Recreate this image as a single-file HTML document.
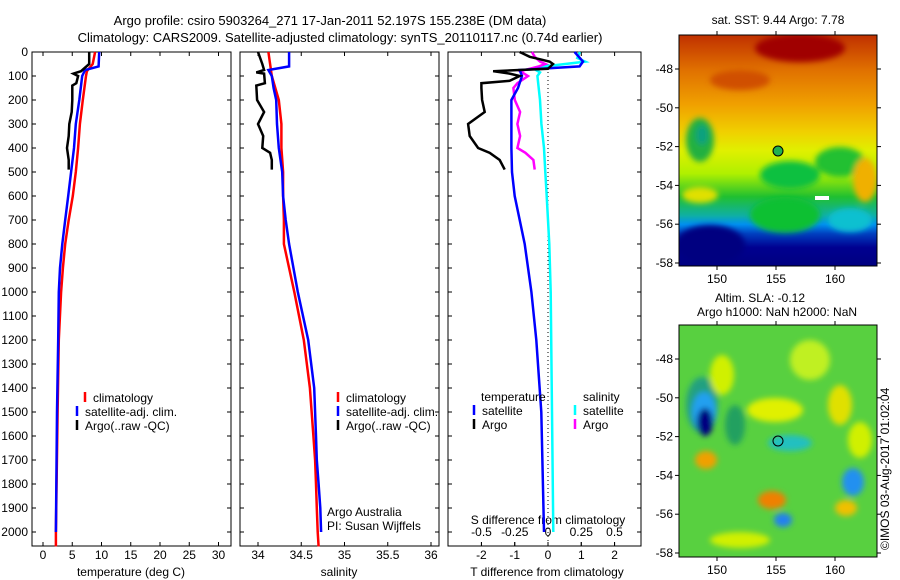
<!DOCTYPE html>
<html><head><meta charset="utf-8"><style>
body{margin:0;background:#fff;}
svg{display:block;font-family:"Liberation Sans",sans-serif;font-size:12px;}
</style></head><body>
<svg id="c" width="900" height="580">
<defs>
<linearGradient id="sstg" x1="0" y1="0" x2="0" y2="1">
<stop offset="0" stop-color="#c03000"/><stop offset="0.15" stop-color="#e07000"/><stop offset="0.3" stop-color="#f0a000"/>
<stop offset="0.42" stop-color="#f0d000"/><stop offset="0.5" stop-color="#e0f000"/><stop offset="0.6" stop-color="#b0f000"/>
<stop offset="0.7" stop-color="#20c030"/><stop offset="0.78" stop-color="#10b0a0"/><stop offset="0.82" stop-color="#0090f0"/>
<stop offset="0.86" stop-color="#0040c0"/><stop offset="0.92" stop-color="#000090"/><stop offset="1" stop-color="#000080"/>
</linearGradient>
<filter id="bl"><feGaussianBlur stdDeviation="3"/></filter>
<clipPath id="m1"><rect x="679" y="35" width="198" height="231"/></clipPath>
<clipPath id="m2"><rect x="679" y="325" width="198" height="232"/></clipPath>
</defs>
<text x="330" y="25" text-anchor="middle" font-size="13">Argo profile: csiro 5903264_271 17-Jan-2011 52.197S 155.238E (DM data)</text>
<text x="340" y="42" text-anchor="middle" font-size="13">Climatology: CARS2009. Satellite-adjusted climatology: synTS_20110117.nc (0.74d earlier)</text>

<g clip-path="url(#m1)">
<rect x="679" y="35" width="198" height="231" fill="url(#sstg)"/>
<g filter="url(#bl)">
<ellipse cx="700" cy="140" rx="14" ry="22" fill="#20b040"/>
<ellipse cx="702" cy="135" rx="6" ry="10" fill="#10a080"/>
<ellipse cx="790" cy="175" rx="30" ry="14" fill="#10c040"/>
<ellipse cx="840" cy="162" rx="25" ry="15" fill="#20c030"/>
<ellipse cx="700" cy="195" rx="18" ry="8" fill="#e0e000"/>
<ellipse cx="800" cy="48" rx="45" ry="14" fill="#a00000"/>
<ellipse cx="740" cy="80" rx="30" ry="10" fill="#d05000"/>
<ellipse cx="865" cy="180" rx="12" ry="22" fill="#f0b000"/>
<ellipse cx="785" cy="215" rx="35" ry="18" fill="#10c030"/>
<ellipse cx="850" cy="220" rx="22" ry="12" fill="#10c0d0"/>
<ellipse cx="710" cy="245" rx="35" ry="20" fill="#000080"/>
</g>
<circle cx="778" cy="151" r="5" fill="#20b050" stroke="#000"/>
<rect x="815" y="196" width="14" height="4" fill="#fff"/>
</g>
<rect x="679" y="35" width="198" height="231" fill="none" stroke="#000"/>
<text x="778" y="24" text-anchor="middle">sat. SST: 9.44 Argo: 7.78</text>

<g clip-path="url(#m2)">
<rect x="679" y="325" width="198" height="232" fill="#58d040"/>
<g filter="url(#bl)">
<ellipse cx="702" cy="405" rx="16" ry="28" fill="#20a080"/>
<ellipse cx="704" cy="412" rx="12" ry="20" fill="#20a0f0"/>
<ellipse cx="705" cy="422" rx="8" ry="14" fill="#000080"/>
<ellipse cx="706" cy="460" rx="11" ry="9" fill="#f0a000"/>
<ellipse cx="775" cy="410" rx="28" ry="12" fill="#e0f000"/>
<ellipse cx="790" cy="443" rx="22" ry="8" fill="#20c0c0"/>
<ellipse cx="772" cy="500" rx="14" ry="9" fill="#f08000"/>
<ellipse cx="783" cy="520" rx="9" ry="7" fill="#2080f0"/>
<ellipse cx="853" cy="482" rx="11" ry="14" fill="#2090f0"/>
<ellipse cx="846" cy="508" rx="11" ry="8" fill="#f0c000"/>
<ellipse cx="840" cy="405" rx="12" ry="20" fill="#e0e000"/>
<ellipse cx="722" cy="375" rx="12" ry="20" fill="#d0f000"/>
<ellipse cx="810" cy="360" rx="20" ry="20" fill="#c0f020"/>
<ellipse cx="740" cy="540" rx="30" ry="8" fill="#d0f000"/>
<ellipse cx="735" cy="425" rx="10" ry="20" fill="#20a060"/>
<ellipse cx="860" cy="440" rx="12" ry="18" fill="#d0f000"/>
</g>
<circle cx="778" cy="441" r="5" fill="none" stroke="#000"/>
</g>
<rect x="679" y="325" width="198" height="232" fill="none" stroke="#000"/>
<text x="760" y="302" text-anchor="middle">Altim. SLA: -0.12</text>
<text x="777" y="316" text-anchor="middle">Argo h1000: NaN h2000: NaN</text>
<text transform="translate(889,550) rotate(-90)">©IMOS 03-Aug-2017 01:02:04</text>
<g id="g"></g>
</svg>
<script>
const NS="http://www.w3.org/2000/svg";
const g=document.getElementById('g');
function el(t,a,txt){const e=document.createElementNS(NS,t);for(const k in a)e.setAttribute(k,a[k]);if(txt!==undefined)e.textContent=txt;g.appendChild(e);return e;}
// ---- data ----
const tempClimDepth=[0,50,80,100,200,300,400,500,600,700,800,900,1000,1200,1500,2000,2060];
const tempClim=[8.9,8.5,7.5,7.35,6.8,6.3,6.0,5.6,5.1,4.4,3.8,3.4,3.1,2.7,2.5,2.2,2.2];
const tempSatDepth=[0,60,75,100,200,300,400,500,600,700,800,900,1000,1200,1500,2000];
const tempSat=[9.6,9.5,7.2,6.7,6.2,5.6,5.3,4.8,4.3,3.8,3.3,2.9,2.7,2.6,2.4,2.2];
const tempArgoDepth=[0,50,80,90,100,130,140,200,250,300,350,400,450,490];
const tempArgo=[7.9,7.9,6.5,5.2,6.0,5.7,5.0,5.0,4.9,4.5,4.4,4.1,4.4,4.4];
const salClimDepth=[0,50,100,200,300,400,500,600,700,800,1000,1200,1400,1600,1700,1800,1900,2000,2060];
const salClim=[34.12,34.14,34.16,34.24,34.27,34.27,34.29,34.29,34.30,34.30,34.42,34.53,34.60,34.64,34.66,34.67,34.68,34.69,34.70];
const salSatDepth=[0,60,75,100,150,200,300,400,500,600,700,800,1000,1200,1400,1600,1700,1800,1900,2000];
const salSat=[34.36,34.36,34.12,34.16,34.18,34.21,34.22,34.24,34.28,34.29,34.32,34.36,34.46,34.58,34.65,34.67,34.68,34.70,34.72,34.73];
const salArgoDepth=[0,50,75,85,90,130,140,200,250,300,350,400,420,450,490];
const salArgo=[34.0,34.05,34.07,33.98,34.07,34.08,33.98,33.99,34.07,34.0,34.06,34.05,34.14,34.16,34.16];
const dTsatDepth=[0,40,60,75,100,150,200,300,400,500,600,700,800,1000,1200,1500,2000];
const dTsat=[0.8,1.05,0.95,-0.85,-0.78,-0.9,-1.1,-1.1,-1.1,-1.08,-1.0,-0.85,-0.7,-0.5,-0.35,-0.2,-0.12];
const dTargoDepth=[0,10,20,30,40,50,70,80,90,100,120,130,150,200,250,300,350,400,420,450,490];
const dTargo=[-0.85,-0.7,-0.55,-0.25,0.05,0.15,0,-1.65,-1.15,-0.85,-1.15,-2.0,-2.0,-1.98,-1.9,-2.4,-2.35,-2.1,-1.75,-1.45,-1.3];
const dSsatDepth=[0,25,40,55,60,75,85,100,150,200,300,400,500,600,800,1000,1500,2000];
const dSsat=[0.24,0.22,0.28,0.05,-0.06,-0.09,-0.06,-0.08,-0.07,-0.06,-0.05,-0.03,-0.02,-0.01,0.01,0.02,0.03,0.04];
const dSargoDepth=[0,20,40,50,60,80,100,130,150,200,250,300,350,400,420,450,490];
const dSargo=[-0.12,-0.1,-0.06,-0.02,-0.07,-0.21,-0.15,-0.23,-0.26,-0.25,-0.21,-0.23,-0.21,-0.23,-0.17,-0.11,-0.1];
const depthTicks=[0,100,200,300,400,500,600,700,800,900,1000,1100,1200,1300,1400,1500,1600,1700,1800,1900,2000];
const tempTicks=[0,5,10,15,20,25,30];
const salTicks=["34","34.5","35","35.5","36"];
const dTticks=[-2,-1,0,1,2];
const dSticks=["-0.5","-0.25","0","0.25","0.5"];
// ---- axes ----
const y=d=>52+d*0.24;
const P1={x0:32,x1:231,f:v=>43+v*5.85};
const P2={x0:240,x1:439,f:v=>258+(v-34)*86.5};
const P3={x0:448,x1:641,f:v=>548+v*33.3};
const sx=v=>548+v*133;
const TOP=52,BOT=546;
function frame(P,name){const r=el('rect',{x:P.x0,y:TOP,width:P.x1-P.x0,height:BOT-TOP,fill:'none',stroke:'#000'});

}
function line(P,xs,ds,col,w,name){const pts=xs.map((v,i)=>P.f(v).toFixed(1)+','+y(ds[i]).toFixed(1)).join(' ');
const l=el('polyline',{points:pts,fill:'none',stroke:col,'stroke-width':w});

}
frame(P1,'temperature-panel');frame(P2,'salinity-panel');frame(P3,'difference-panel');
depthTicks.forEach(d=>{const t=el('text',{x:28,y:y(d)+4,'text-anchor':'end'},d);


[P1,P2,P3].forEach(P=>{el('line',{x1:P.x0,x2:P.x0+4,y1:y(d),y2:y(d),stroke:'#000'});el('line',{x1:P.x1,x2:P.x1-4,y1:y(d),y2:y(d),stroke:'#000'});});});
function xticks(P,vals,labs,name){vals.forEach((v,i)=>{const X=P.f(v);el('line',{x1:X,x2:X,y1:BOT,y2:BOT-4,stroke:'#000'});el('line',{x1:X,x2:X,y1:TOP,y2:TOP+4,stroke:'#000'});
const t=el('text',{x:X,y:BOT+13,'text-anchor':'middle'},labs[i]);

});}
xticks(P1,tempTicks,tempTicks,'temperature-tick-label');
xticks(P2,salTicks.map(Number),salTicks,'salinity-tick-label');
xticks(P3,dTticks,dTticks,'t-diff-tick-label');
dSticks.forEach(s=>{const X=sx(Number(s));el('line',{x1:X,x2:X,y1:BOT,y2:BOT-4,stroke:'#000'});
const t=el('text',{x:X,y:BOT-10,'text-anchor':'middle'},s);

});
el('line',{x1:548,x2:548,y1:TOP,y2:BOT,stroke:'#000','stroke-dasharray':'1,3'});
[['temperature (deg C)',131],['salinity',339],['T difference from climatology',547]].forEach(a=>{const t=el('text',{x:a[1],y:576,'text-anchor':'middle'},a[0]);

});
const st=el('text',{x:548,y:524,'text-anchor':'middle'},'S difference from climatology');


// series
line(P1,tempClim,tempClimDepth,'#f00',2.5,'temp-climatology-line');
line(P1,tempSat,tempSatDepth,'#00f',2.5,'temp-satellite-line');
line(P1,tempArgo,tempArgoDepth,'#000',2.5,'temp-argo-line');
line(P2,salClim,salClimDepth,'#f00',2.5,'sal-climatology-line');
line(P2,salSat,salSatDepth,'#00f',2.5,'sal-satellite-line');
line(P2,salArgo,salArgoDepth,'#000',2.5,'sal-argo-line');
const P3s={f:sx};
line(P3s,dSsat,dSsatDepth,'#0ff',2.5,'s-diff-satellite-line');
line(P3s,dSargo,dSargoDepth,'#f0f',2.5,'s-diff-argo-line');
line(P3,dTsat,dTsatDepth,'#00f',2.5,'t-diff-satellite-line');
line(P3,dTargo,dTargoDepth,'#000',2.5,'t-diff-argo-line');
// legends
function leg(x,yy,col,txt){if(col)el('line',{x1:x,x2:x,y1:yy-10,y2:yy,stroke:col,'stroke-width':2.5});
const t=el('text',{x:x+8,y:yy},txt);

}
[[85,'#f00','climatology'],[77,'#00f','satellite-adj. clim.'],[77,'#000','Argo(..raw -QC)']].forEach((a,i)=>leg(a[0],402+i*14,a[1],a[2]));
[[338,'#f00','climatology'],[338,'#00f','satellite-adj. clim.'],[338,'#000','Argo(..raw -QC)']].forEach((a,i)=>leg(a[0],402+i*14,a[1],a[2]));
leg(473,401,null,'temperature');leg(575,401,null,'salinity');
leg(474,415,'#00f','satellite');leg(474,429,'#000','Argo');
leg(575,415,'#0ff','satellite');leg(575,429,'#f0f','Argo');
const a1=el('text',{x:327,y:516},'Argo Australia');
const a2=el('text',{x:327,y:530},'PI: Susan Wijffels');
// map axes
const latT=[-48,-50,-52,-54,-56,-58],lonT=[150,155,160];
[[69,35,266],[359,325,557]].forEach(m=>{latT.forEach(L=>{const Y=m[0]+(-48-L)*19.4;el('line',{x1:679,x2:675,y1:Y,y2:Y,stroke:'#000'});el('line',{x1:877,x2:881,y1:Y,y2:Y,stroke:'#000'});
const t=el('text',{x:673,y:Y+4,'text-anchor':'end'},L);});
lonT.forEach(L=>{const X=717+(L-150)*11.8;el('line',{x1:X,x2:X,y1:m[2],y2:m[2]+4,stroke:'#000'});el('line',{x1:X,x2:X,y1:m[1],y2:m[1]-4,stroke:'#000'});
const t=el('text',{x:X,y:m[2]+17,'text-anchor':'middle'},L);});});
</script>
</body></html>
